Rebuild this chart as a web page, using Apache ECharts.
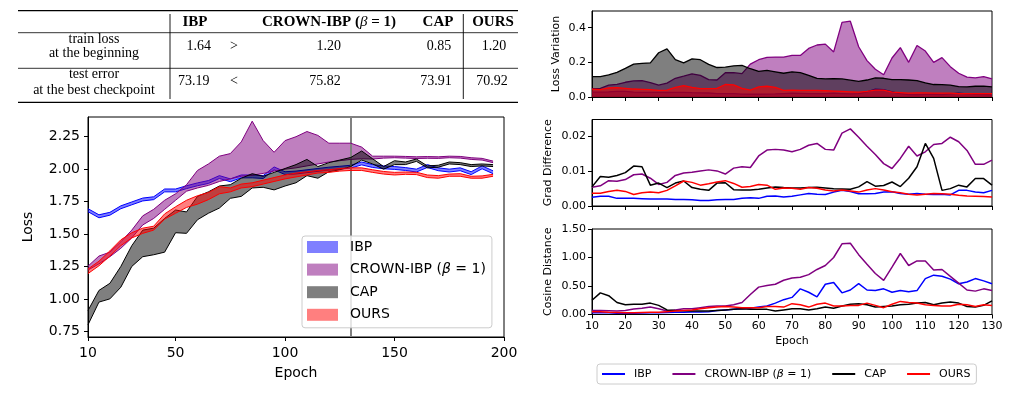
<!DOCTYPE html>
<html>
<head>
<meta charset="utf-8">
<script src="https://cdn.jsdelivr.net/npm/echarts@6/dist/echarts.min.js"></script>
<style>
html,body{margin:0;padding:0;background:#fff;}
#chart{width:1015px;height:395px;}
</style>
</head>
<body>
<div id="chart"></div>
<script>
// ---------- DATA ----------
const methods = ['IBP', 'CROWN-IBP (β = 1)', 'CAP', 'OURS'];

// main loss chart (band lower/upper per method)
const mainEpochs = [10,15,20,25,30,35,40,45,50,55,60,65,70,75,80,85,90,95,100,105,110,115,120,125,130,135,140,145,150,155,160,165,170,175,180,185,190,195];
const ibpLo = [1.672,1.625,1.645,1.695,1.725,1.755,1.765,1.825,1.825,1.85,1.872,1.89,1.928,1.903,1.933,1.933,1.928,1.995,1.958,1.963,1.973,1.983,1.993,2.0,2.008,2.033,2.013,2.003,1.998,1.99,1.978,2.013,1.988,1.978,1.988,1.958,2.003,1.965];
const ibpHi = [1.695,1.648,1.667,1.717,1.747,1.777,1.787,1.847,1.847,1.872,1.894,1.912,1.95,1.925,1.955,1.955,1.95,2.017,1.98,1.985,1.995,2.005,2.015,2.022,2.03,2.055,2.035,2.025,2.02,2.012,2.0,2.035,2.01,2.0,2.01,1.98,2.025,1.987];
const crownLo = [1.222,1.27,1.325,1.39,1.47,1.57,1.62,1.69,1.76,1.83,1.855,1.875,1.905,1.925,1.945,1.953,1.967,1.985,2.0,2.01,2.025,2.04,2.055,2.065,2.075,2.08,2.078,2.085,2.088,2.085,2.082,2.084,2.083,2.088,2.085,2.075,2.07,2.05];
const crownHi = [1.252,1.33,1.36,1.44,1.53,1.64,1.69,1.76,1.81,1.88,1.99,2.04,2.1,2.12,2.21,2.37,2.22,2.13,2.22,2.25,2.29,2.26,2.2,2.2,2.2,2.17,2.1,2.1,2.1,2.098,2.095,2.097,2.095,2.1,2.098,2.088,2.083,2.062];
const capLo = [0.8,0.975,1.0,1.09,1.25,1.325,1.34,1.36,1.51,1.505,1.61,1.66,1.7,1.775,1.79,1.855,1.86,1.84,1.87,1.895,1.95,1.93,1.98,1.995,2.02,2.07,2.04,2.0,2.035,2.035,2.06,2.01,2.015,2.04,2.035,2.02,2.025,2.02];
const capHi = [0.91,1.065,1.12,1.25,1.41,1.53,1.545,1.62,1.685,1.67,1.79,1.825,1.87,1.88,1.93,1.965,1.945,1.975,2.005,2.035,2.075,2.02,2.05,2.07,2.09,2.14,2.08,2.02,2.065,2.055,2.078,2.025,2.03,2.055,2.05,2.035,2.04,2.035];
const oursLo = [1.195,1.255,1.33,1.41,1.47,1.505,1.53,1.615,1.66,1.705,1.73,1.765,1.81,1.825,1.855,1.865,1.885,1.905,1.925,1.94,1.955,1.97,1.975,1.985,1.99,1.99,1.975,1.962,1.955,1.96,1.958,1.935,1.93,1.945,1.945,1.93,1.93,1.945];
const oursHi = [1.23,1.29,1.37,1.455,1.51,1.545,1.56,1.655,1.71,1.76,1.795,1.82,1.865,1.855,1.885,1.895,1.915,1.935,1.955,1.97,1.98,1.99,1.995,2.005,2.01,2.01,1.995,1.982,1.975,1.978,1.976,1.955,1.95,1.962,1.965,1.945,1.948,1.96];
const mainXTicks = [10,50,100,150,200];
const mainYTicks = [0.75,1.0,1.25,1.5,1.75,2.0,2.25];
const bestEpoch = 130;

// right panels
const rEpochs = [10,12.5,15,17.5,20,22.5,25,27.5,30,32.5,35,37.5,40,42.5,45,47.5,50,52.5,55,57.5,60,62.5,65,67.5,70,72.5,75,77.5,80,82.5,85,87.5,90,92.5,95,97.5,100,102.5,105,107.5,110,112.5,115,117.5,120,122.5,125,127.5,130];
const lvIBP = [.028,.028,.03,.033,.032,.028,.027,.027,.027,.026,.027,.027,.025,.024,.023,.02,.02,.02,.017,.016,.016,.017,.018,.02,.022,.021,.02,.02,.02,.022,.02,.018,.02,.03,.045,.043,.03,.02,.014,.013,.015,.016,.014,.018,.022,.018,.016,.014,.013];
const lvCROWN = [.048,.05,.068,.073,.085,.093,.094,.083,.068,.08,.108,.12,.133,.125,.1,.098,.14,.14,.135,.19,.215,.228,.23,.23,.24,.24,.28,.3,.305,.26,.43,.437,.29,.21,.16,.128,.225,.285,.2,.297,.265,.2,.227,.175,.137,.115,.11,.118,.105];
const lvCAP = [.118,.118,.128,.142,.165,.19,.194,.197,.255,.278,.215,.197,.22,.215,.188,.17,.172,.18,.182,.163,.148,.153,.145,.137,.145,.14,.125,.108,.104,.106,.104,.097,.09,.098,.11,.108,.1,.1,.098,.095,.082,.072,.071,.068,.06,.058,.062,.063,.058];
const lvOURS = [.045,.042,.052,.054,.05,.046,.044,.042,.038,.04,.055,.065,.055,.048,.048,.05,.072,.07,.05,.04,.058,.062,.055,.038,.04,.038,.038,.038,.036,.034,.032,.03,.028,.032,.04,.04,.028,.025,.022,.024,.024,.022,.022,.022,.02,.02,.02,.02,.02];

const gdIBP = [.0025,.0028,.0028,.0022,.0022,.0022,.0021,.002,.002,.002,.0019,.0019,.0018,.0016,.0016,.0018,.0019,.0019,.0022,.0024,.0022,.0028,.0029,.0026,.0028,.0032,.0036,.0034,.0033,.004,.0045,.0042,.0035,.0035,.0036,.004,.0041,.0036,.0034,.0036,.0034,.0033,.0034,.0032,.0045,.0045,.004,.0038,.0045];
const gdCROWN = [.0054,.0058,.0073,.0071,.0076,.009,.0092,.008,.0062,.0068,.0088,.0095,.0097,.0101,.0104,.0101,.0092,.0109,.0113,.0111,.0144,.0161,.0163,.0161,.0156,.0163,.0175,.018,.0163,.0161,.021,.0222,.0198,.0172,.0148,.0122,.0108,.0137,.0172,.0144,.0156,.0177,.018,.0198,.0185,.016,.012,.012,.0132];
const gdCAP = [.0055,.0085,.0083,.0088,.0096,.0115,.0113,.006,.0066,.0053,.0066,.0072,.0053,.0048,.0045,.0066,.0067,.0047,.0046,.0046,.0048,.0052,.0055,.0053,.0052,.0052,.0053,.0054,.0052,.005,.0049,.0048,.0055,.007,.0057,.0059,.0069,.0056,.008,.0113,.018,.0137,.0045,.005,.006,.0055,.0079,.0079,.006];
const gdOURS = [.0037,.0037,.0042,.0045,.0042,.0033,.0038,.004,.0038,.0045,.0058,.0072,.0068,.006,.0064,.0069,.0073,.0065,.0054,.0056,.0062,.006,.0048,.0052,.0051,.0048,.0053,.0051,.0046,.0043,.0046,.0043,.004,.0046,.005,.0046,.0041,.0038,.0034,.0032,.0034,.0036,.0035,.0034,.0031,.0029,.0028,.0027,.0026];

const cdIBP = [.03,.03,.03,.02,.02,.02,.025,.03,.03,.035,.04,.04,.045,.045,.05,.07,.08,.09,.1,.11,.13,.15,.2,.26,.3,.45,.39,.31,.53,.56,.38,.43,.54,.43,.42,.45,.39,.42,.4,.42,.63,.69,.67,.62,.54,.57,.63,.59,.54];
const cdCROWN = [.07,.07,.065,.06,.07,.095,.11,.13,.1,.06,.08,.1,.1,.12,.14,.15,.15,.17,.21,.35,.48,.51,.53,.6,.64,.655,.7,.79,.86,1.0,1.24,1.25,1.05,.88,.72,.6,.83,1.07,.86,.94,.94,.78,.79,.67,.55,.43,.41,.45,.42];
const cdCAP = [.25,.38,.33,.21,.17,.18,.18,.2,.16,.08,.07,.065,.06,.06,.06,.07,.08,.09,.1,.09,.09,.09,.06,.08,.1,.1,.08,.1,.13,.11,.15,.18,.19,.17,.13,.14,.15,.17,.18,.2,.21,.17,.2,.22,.2,.14,.13,.16,.24];
const cdOURS = [.05,.05,.04,.035,.03,.03,.035,.04,.04,.05,.06,.07,.08,.1,.12,.13,.14,.13,.12,.12,.12,.14,.14,.13,.19,.17,.13,.18,.2,.15,.15,.16,.16,.2,.16,.12,.18,.23,.21,.2,.17,.16,.15,.15,.18,.17,.14,.17,.16];

// table
const tableCols = ['IBP', 'CROWN-IBP (β = 1)', 'CAP', 'OURS'];
const trainLoss = ['1.64', '1.20', '0.85', '1.20'];
const testError = ['73.19', '75.82', '73.91', '70.92'];

// ---------- STYLE ----------
const lineColors = ['#0000ff', '#800080', '#000000', '#ff0000'];
const fillColors = ['rgba(0,0,255,0.5)', 'rgba(128,0,128,0.5)', 'rgba(0,0,0,0.5)', 'rgba(255,0,0,0.5)'];
const FONT = 'DejaVu Sans';
const SERIF = '"Liberation Serif", "DejaVu Serif", serif';

const chart = echarts.init(document.getElementById('chart'), null, {renderer: 'canvas'});

function pairs(xs, ys) { return xs.map((x, i) => [x, ys[i]]); }

function bandRender(lo, hi, fill) {
  return function (params, api) {
    if (params.dataIndex !== 0) return null;
    const pts = [];
    for (let i = 0; i < mainEpochs.length; i++) pts.push(api.coord([mainEpochs[i], lo[i]]));
    for (let i = mainEpochs.length - 1; i >= 0; i--) pts.push(api.coord([mainEpochs[i], hi[i]]));
    return {type: 'polygon', shape: {points: pts}, style: {fill: fill, stroke: null}};
  };
}

const bands = [[ibpLo, ibpHi], [crownLo, crownHi], [capLo, capHi], [oursLo, oursHi]];
const series = [];
bands.forEach((b, k) => {
  series.push({
    type: 'custom', name: methods[k], xAxisIndex: 0, yAxisIndex: 0,
    data: mainEpochs.map((e, i) => [e, b[0][i], b[1][i]]),
    encode: {x: 0, y: [1, 2]},
    renderItem: bandRender(b[0], b[1], fillColors[k]),
    silent: true, z: 2 + k * 2
  });
  [b[0], b[1]].forEach((arr, j) => {
    const s = {
      type: 'line', name: methods[k], xAxisIndex: 0, yAxisIndex: 0,
      data: pairs(mainEpochs, arr), symbol: 'none', silent: true,
      lineStyle: {color: lineColors[k], width: 1}, itemStyle: {color: lineColors[k]},
      z: 3 + k * 2
    };
    if (k === 3 && j === 1) {
      s.markLine = {
        silent: true, symbol: 'none', label: {show: false},
        lineStyle: {color: '#808080', width: 2, type: 'solid'},
        data: [{xAxis: bestEpoch}]
      };
    }
    series.push(s);
  });
});

const lv = [lvIBP, lvCROWN, lvCAP, lvOURS];
const gd = [gdIBP, gdCROWN, gdCAP, gdOURS];
const cd = [cdIBP, cdCROWN, cdCAP, cdOURS];
lv.forEach((arr, k) => series.push({
  type: 'line', name: methods[k], xAxisIndex: 1, yAxisIndex: 1, data: pairs(rEpochs, arr),
  symbol: 'none', silent: true, lineStyle: {color: lineColors[k], width: 1.3}, itemStyle: {color: lineColors[k]},
  areaStyle: {color: fillColors[k], opacity: 1}, z: 2 + k
}));
gd.forEach((arr, k) => series.push({
  type: 'line', name: methods[k], xAxisIndex: 2, yAxisIndex: 2, data: pairs(rEpochs, arr),
  symbol: 'none', silent: true, lineStyle: {color: lineColors[k], width: 1.5}, itemStyle: {color: lineColors[k]}, z: 2 + k
}));
cd.forEach((arr, k) => series.push({
  type: 'line', name: methods[k], xAxisIndex: 3, yAxisIndex: 3, data: pairs(rEpochs, arr),
  symbol: 'none', silent: true, lineStyle: {color: lineColors[k], width: 1.5}, itemStyle: {color: lineColors[k]}, z: 2 + k
}));

const axLine = {show: true, lineStyle: {color: '#000', width: 1}};
const tick = (len, cv) => { const t = {show: true, length: len, lineStyle: {color: '#000', width: 1}}; if (cv) t.customValues = cv; return t; };

const xAxes = [
  {gridIndex: 0, type: 'value', min: 10, max: 200, axisLine: axLine, axisTick: tick(4, mainXTicks),
   axisLabel: {customValues: mainXTicks, fontSize: 14, color: '#000', margin: 9, fontFamily: FONT},
   splitLine: {show: false}, name: 'Epoch', nameLocation: 'middle', nameGap: 29,
   nameTextStyle: {fontSize: 14, color: '#000', fontFamily: FONT}},
  {gridIndex: 1, type: 'value', min: 10, max: 130, interval: 10, axisLine: axLine, axisTick: tick(4),
   axisLabel: {show: false}, splitLine: {show: false}},
  {gridIndex: 2, type: 'value', min: 10, max: 130, interval: 10, axisLine: axLine, axisTick: tick(4),
   axisLabel: {show: false}, splitLine: {show: false}},
  {gridIndex: 3, type: 'value', min: 10, max: 130, interval: 10, axisLine: axLine, axisTick: tick(4),
   axisLabel: {fontSize: 11, color: '#000', margin: 6, fontFamily: FONT}, splitLine: {show: false},
   name: 'Epoch', nameLocation: 'middle', nameGap: 21, nameTextStyle: {fontSize: 11, color: '#000', fontFamily: FONT}}
];
const yAxes = [
  {gridIndex: 0, type: 'value', min: 0.706, max: 2.402, axisLine: axLine, axisTick: tick(4, mainYTicks),
   axisLabel: {customValues: mainYTicks, formatter: v => v.toFixed(2), fontSize: 14, color: '#000', margin: 8, fontFamily: FONT},
   splitLine: {show: false}, name: 'Loss', nameLocation: 'middle', nameGap: 53,
   nameTextStyle: {fontSize: 14, color: '#000', fontFamily: FONT}},
  {gridIndex: 1, type: 'value', min: 0, max: 0.496, axisLine: axLine, axisTick: tick(4, [0, 0.2, 0.4]),
   axisLabel: {customValues: [0, 0.2, 0.4], formatter: v => v.toFixed(1), fontSize: 11, color: '#000', margin: 6, fontFamily: FONT},
   splitLine: {show: false}, name: 'Loss Variation', nameLocation: 'middle', nameGap: 30,
   nameTextStyle: {fontSize: 11, color: '#000', fontFamily: FONT}},
  {gridIndex: 2, type: 'value', min: 0, max: 0.0249, axisLine: axLine, axisTick: tick(4, [0, 0.01, 0.02]),
   axisLabel: {customValues: [0, 0.01, 0.02], formatter: v => v.toFixed(2), fontSize: 11, color: '#000', margin: 6, fontFamily: FONT},
   splitLine: {show: false}, name: 'Grad Difference', nameLocation: 'middle', nameGap: 38,
   nameTextStyle: {fontSize: 11, color: '#000', fontFamily: FONT}},
  {gridIndex: 3, type: 'value', min: 0, max: 1.5, interval: 0.5, axisLine: axLine, axisTick: tick(4),
   axisLabel: {formatter: v => v.toFixed(2), fontSize: 11, color: '#000', margin: 6, fontFamily: FONT},
   splitLine: {show: false}, name: 'Cosine Distance', nameLocation: 'middle', nameGap: 38,
   nameTextStyle: {fontSize: 11, color: '#000', fontFamily: FONT}}
];

const legendFormatter = name => name === methods[1] ? 'CROWN-IBP ({it|β} = 1)' : name;

// table graphic
const g = [];
const L = 18, R = 518;
function hline(y, w) { g.push({type: 'line', shape: {x1: L, y1: y, x2: R, y2: y}, style: {stroke: '#000', lineWidth: w}, silent: true}); }
function vline(x) { g.push({type: 'line', shape: {x1: x, y1: 14, x2: x, y2: 99}, style: {stroke: '#000', lineWidth: 0.9}, silent: true}); }
function txt(s, x, y, size, weight, rich) {
  const st = {text: s, fill: '#000', fontSize: size, fontFamily: SERIF, fontWeight: weight || 'normal', align: 'center', verticalAlign: 'middle'};
  if (rich) st.rich = rich;
  g.push({type: 'text', x: x, y: y, style: st, silent: true});
}
hline(10.7, 1.3); hline(32.7, 0.8); hline(68.3, 0.8); hline(102.3, 1.3);
vline(170); vline(463.3);
const colX = [195, 329, 438, 493];
const hdrRich = {b: {fontSize: 15, fontWeight: 'bold', fontFamily: SERIF}, i: {fontSize: 15, fontStyle: 'italic', fontFamily: SERIF}};
txt('{b|' + tableCols[0] + '}', colX[0], 22.5, 15, 'bold', hdrRich);
txt('{b|CROWN-IBP (}{i|β}{b| = 1)}', colX[1], 22.5, 15, 'bold', hdrRich);
txt('{b|' + tableCols[2] + '}', colX[2], 22.5, 15, 'bold', hdrRich);
txt('{b|' + tableCols[3] + '}', colX[3], 22.5, 15, 'bold', hdrRich);
txt('train loss', 94, 39.5, 14); txt('at the beginning', 94, 53, 14);
txt('test error', 94, 74, 14); txt('at the best checkpoint', 94, 90, 14);
const valX = [[198.7, 328.7, 439, 494], [193.7, 325, 436, 492]];
trainLoss.forEach((v, i) => txt(v, valX[0][i], 46.7, 14));
testError.forEach((v, i) => txt(v, valX[1][i], 81.7, 14));
txt('>', 234, 46.7, 14); txt('<', 234, 81.7, 14);

const option = {
  animation: false,
  backgroundColor: '#fff',
  textStyle: {fontFamily: FONT},
  grid: [
    {left: 88, top: 117, width: 416, height: 220, show: true, borderColor: '#000', borderWidth: 1, backgroundColor: 'transparent'},
    {left: 592, top: 11, width: 400, height: 86, show: true, borderColor: '#000', borderWidth: 1, backgroundColor: 'transparent'},
    {left: 592, top: 119.5, width: 400, height: 86.5, show: true, borderColor: '#000', borderWidth: 1, backgroundColor: 'transparent'},
    {left: 592, top: 229, width: 400, height: 85.5, show: true, borderColor: '#000', borderWidth: 1, backgroundColor: 'transparent'}
  ],
  xAxis: xAxes,
  yAxis: yAxes,
  legend: [
    {
      orient: 'vertical', left: 302, top: 236, padding: [3, 6, 5, 5],
      itemWidth: 31, itemHeight: 12, itemGap: 6.6, selectedMode: false,
      backgroundColor: 'rgba(255,255,255,0.8)', borderColor: '#cccccc', borderWidth: 1, borderRadius: 3,
      formatter: legendFormatter,
      textStyle: {fontSize: 14, lineHeight: 16, color: '#000', fontFamily: FONT, padding: [0, 0, 0, 7],
        rich: {it: {fontSize: 14, fontStyle: 'italic', fontFamily: FONT, color: '#000'}}},
      data: methods.map((m, k) => ({name: m, icon: 'rect', itemStyle: {color: fillColors[k], borderWidth: 0}})),
      z: 20
    },
    {
      orient: 'horizontal', left: 597, top: 364, padding: [3, 6, 3, 5],
      itemWidth: 23, itemHeight: 2, itemGap: 21, selectedMode: false,
      backgroundColor: '#fff', borderColor: '#cccccc', borderWidth: 1, borderRadius: 3,
      formatter: legendFormatter,
      textStyle: {fontSize: 11, lineHeight: 14, color: '#000', fontFamily: FONT, padding: [0, 0, 0, 4],
        rich: {it: {fontSize: 11, fontStyle: 'italic', fontFamily: FONT, color: '#000'}}},
      data: methods.map((m, k) => ({name: m, icon: 'rect', itemStyle: {color: lineColors[k], borderWidth: 0}})),
      z: 20
    }
  ],
  graphic: g,
  series: series
};
chart.setOption(option);
</script>
</body>
</html>
